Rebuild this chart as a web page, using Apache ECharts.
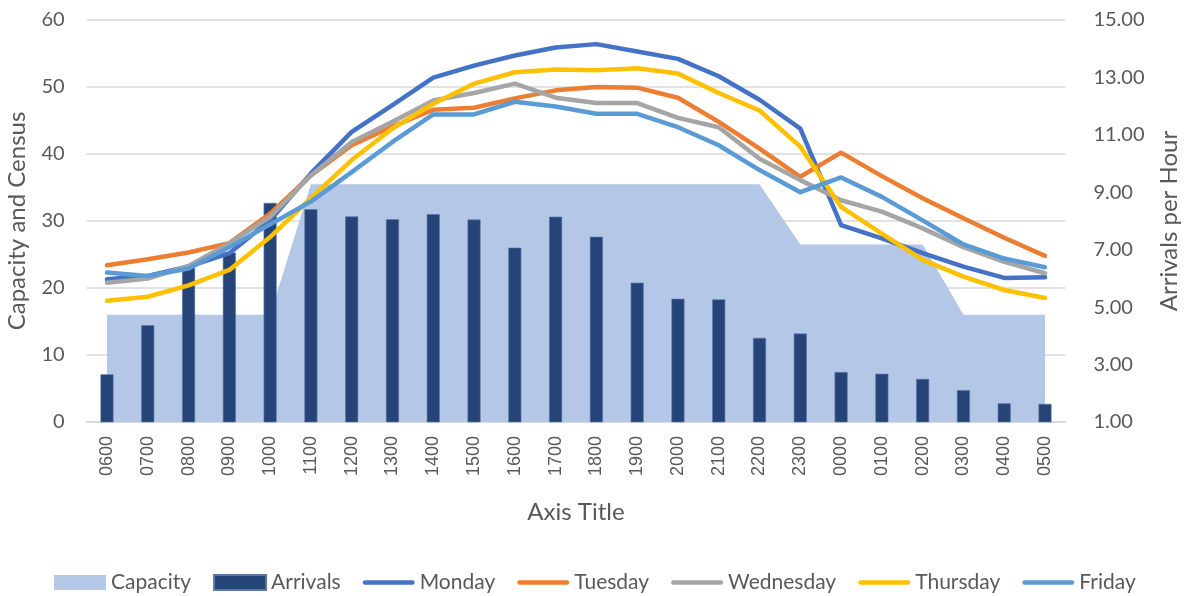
<!DOCTYPE html>
<html>
<head>
<meta charset="utf-8">
<title>Capacity and Census</title>
<script src="https://cdn.jsdelivr.net/npm/echarts@6/dist/echarts.min.js"></script>
<style>
  html, body { margin: 0; padding: 0; background: #fff; }
  #chart { width: 1186px; height: 596px; }
</style>
</head>
<body>
<div id="chart"></div>
<script>
// hours of the day, starting at 0600
var hours = ["0600", "0700", "0800", "0900", "1000", "1100", "1200", "1300", "1400", "1500", "1600", "1700",
  "1800", "1900", "2000", "2100", "2200", "2300", "0000", "0100", "0200", "0300", "0400", "0500"]

var capacity = [16, 16, 16, 16, 16, 35.5, 35.5, 35.5, 35.5, 35.5, 35.5, 35.5,
  35.5, 35.5, 35.5, 35.5, 35.5, 26.5, 26.5, 26.5, 26.5, 16, 16, 16]

// arrivals per hour (right axis)
var arrivals = [2.66, 4.37, 6.4, 6.9, 8.63, 8.41, 8.16, 8.06, 8.24, 8.05, 7.07, 8.15,
  7.45, 5.85, 5.29, 5.27, 3.93, 4.08, 2.74, 2.68, 2.5, 2.11, 1.65, 1.63]

var monday = [21.3, 21.8, 23.2, 25.2, 30.1, 37.1, 43.3, 47.3, 51.4, 53.2, 54.7, 55.9,
  56.4, 55.3, 54.2, 51.6, 48.1, 43.8, 29.4, 27.4, 25.2, 23.2, 21.5, 21.6]
var tuesday = [23.4, 24.3, 25.3, 26.7, 31.1, 36.8, 41.3, 44.1, 46.6, 46.9, 48.3, 49.5,
  50.0, 49.9, 48.4, 44.8, 40.8, 36.6, 40.2, 36.7, 33.4, 30.4, 27.5, 24.8]
var wednesday = [20.8, 21.4, 23.3, 26.7, 30.6, 36.8, 41.8, 44.8, 48.0, 49.1, 50.5, 48.4,
  47.6, 47.6, 45.4, 44.0, 39.3, 36.1, 33.1, 31.4, 28.9, 26.1, 23.9, 22.2]
var thursday = [18.1, 18.7, 20.4, 22.7, 27.6, 33.4, 39.1, 43.8, 47.5, 50.5, 52.2, 52.6,
  52.5, 52.8, 52.0, 49.1, 46.5, 41.1, 32.1, 28.1, 24.2, 21.7, 19.7, 18.5]
var friday = [22.3, 21.8, 22.9, 26.1, 29.5, 32.9, 37.3, 41.8, 45.9, 45.9, 47.8, 47.1,
  46.0, 46.0, 44.0, 41.3, 37.6, 34.3, 36.5, 33.6, 30.1, 26.5, 24.4, 23.1]

var leftTicks = { min: 0, max: 60, interval: 10 }
var rightTicks = { min: 1, max: 15, interval: 2 }

var font = "Lato, 'Liberation Sans', sans-serif"
var textColor = "#595959"
// thin bar inside a 52x15 box, used as the legend icon of the line series
var lineIcon = "path://M0,0 M2.25,5.25 L49.75,5.25 A2.25,2.25 0 0 1 49.75,9.75 L2.25,9.75 A2.25,2.25 0 0 1 2.25,5.25 Z M52,15"

function censusLine(name, color, data) {
  return {
    name: name,
    type: "line",
    yAxisIndex: 0,
    symbol: "none",
    z: 3,
    data: data,
    lineStyle: { color: color, width: 4.5, cap: "round", join: "round" },
    itemStyle: { color: color },
  }
}

var chart = echarts.init(document.getElementById("chart"))

var option = {
  backgroundColor: "#fff",
  animation: false,
  textStyle: { fontFamily: font, color: textColor },
  grid: { left: 86.6, right: 120.6, top: 20, bottom: 174, containLabel: false, outerBoundsMode: "none" },
  legend: {
    top: 567,
    left: 49,
    itemWidth: 52,
    itemHeight: 15,
    itemGap: 22,
    textStyle: { fontFamily: font, fontSize: 21, color: textColor },
    data: [
      { name: "Capacity", icon: "rect" },
      { name: "Arrivals", icon: "rect" },
      { name: "Monday", icon: lineIcon },
      { name: "Tuesday", icon: lineIcon },
      { name: "Wednesday", icon: lineIcon },
      { name: "Thursday", icon: lineIcon },
      { name: "Friday", icon: lineIcon },
    ],
  },
  xAxis: {
    type: "category",
    data: hours,
    boundaryGap: true,
    name: "Axis Title",
    nameLocation: "middle",
    nameGap: 78,
    nameTextStyle: { fontFamily: font, fontSize: 24, color: textColor },
    axisTick: { show: false },
    axisLine: { lineStyle: { color: "#D9D9D9", width: 1.5 } },
    axisLabel: {
      rotate: 90,
      interval: 0,
      margin: 14,
      fontFamily: "'Liberation Sans', sans-serif",
      fontSize: 18,
      color: textColor,
    },
  },
  yAxis: [
    {
      type: "value",
      min: leftTicks.min,
      max: leftTicks.max,
      interval: leftTicks.interval,
      name: "Capacity and Census",
      nameLocation: "middle",
      nameRotate: 90,
      nameGap: 57,
      nameTextStyle: { fontFamily: font, fontSize: 24, color: textColor },
      axisLine: { show: false },
      axisTick: { show: false },
      axisLabel: { fontFamily: font, fontSize: 20, color: textColor, margin: 22 },
      splitLine: { lineStyle: { color: "#D9D9D9", width: 1.5 } },
    },
    {
      type: "value",
      min: rightTicks.min,
      max: rightTicks.max,
      interval: rightTicks.interval,
      name: "Arrivals per Hour",
      nameLocation: "middle",
      nameRotate: 90,
      nameGap: 92,
      nameTextStyle: { fontFamily: font, fontSize: 24, color: textColor },
      axisLine: { show: false },
      axisTick: { show: false },
      axisLabel: {
        fontFamily: font,
        fontSize: 20,
        color: textColor,
        margin: 28,
        formatter: function (v) { return v.toFixed(2) },
      },
      splitLine: { show: false },
    },
  ],
  series: [
    {
      name: "Capacity",
      type: "line",
      yAxisIndex: 0,
      symbol: "none",
      z: 1,
      data: capacity,
      lineStyle: { width: 0, color: "#B4C7E7" },
      itemStyle: { color: "#B4C7E7" },
      areaStyle: { color: "#B4C7E7", opacity: 1 },
    },
    {
      name: "Arrivals",
      type: "bar",
      yAxisIndex: 1,
      barWidth: 13,
      clip: true,
      z: 2,
      data: arrivals,
      itemStyle: { color: "#264478", borderColor: "#5b77a6", borderWidth: 0.6 },
    },
    censusLine("Monday", "#4472C4", monday),
    censusLine("Tuesday", "#ED7D31", tuesday),
    censusLine("Wednesday", "#A5A5A5", wednesday),
    censusLine("Thursday", "#FFC000", thursday),
    censusLine("Friday", "#5B9BD5", friday),
  ],
}

chart.setOption(option)
</script>
</body>
</html>
